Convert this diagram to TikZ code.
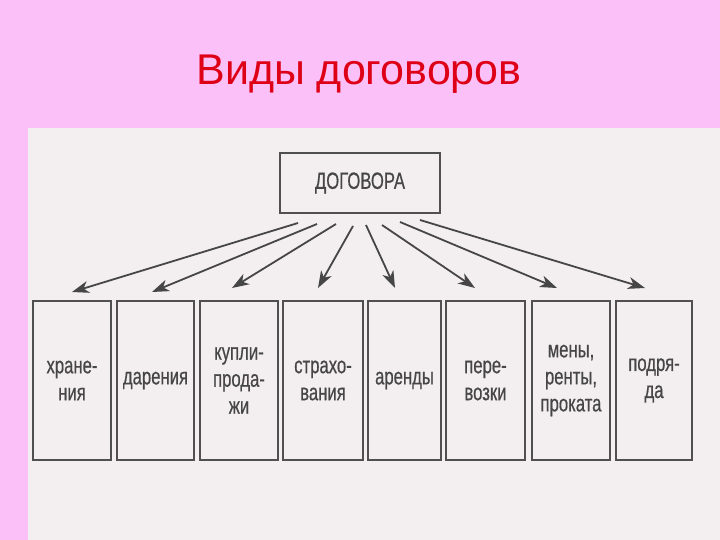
\documentclass[tikz,border=0pt]{standalone}
\usepackage{fontspec}
\setmainfont{Liberation Sans}
\newfontfamily\narrowfont{Liberation Sans}[FakeStretch=0.71,FakeBold=0.5]
\usetikzlibrary{arrows.meta}
\definecolor{pinkbg}{RGB}{251,192,248}
\definecolor{scanbg}{RGB}{243,239,241}
\definecolor{titlered}{RGB}{222,0,22}
\definecolor{boxgray}{RGB}{80,80,80}
\definecolor{txtgray}{RGB}{70,70,70}
\definecolor{arrgray}{RGB}{70,70,70}
\begin{document}
\begin{tikzpicture}[x=1pt,y=-1pt,
  box/.style={draw=boxgray,line width=1.6pt,minimum width=78pt,minimum height=159pt,
    inner sep=0pt,align=center,font=\narrowfont\fontsize{23.5}{27}\selectfont,text=txtgray},
  arr/.style={draw=arrgray,line width=1.8pt,-{Stealth[length=17pt,width=12pt,inset=5pt]}}]
\fill[pinkbg] (0,0) rectangle (720,540);
\fill[scanbg] (28,128) rectangle (720,540);
\useasboundingbox (0,0) rectangle (720,540);
\node[anchor=base,font=\fontsize{43}{50}\selectfont,text=titlered] (title) at (359,85) {Виды договоров};
\node[box,minimum width=160pt,minimum height=60pt] (top) at (360,183) {ДОГОВОРА};
\node[box] (b1) at (72,380.5) {хране-\\ния};
\node[box,minimum width=77pt] (b2) at (155.5,380.5) {дарения};
\node[box] (b3) at (239,380.5) {купли-\\прода-\\жи};
\node[box,minimum width=80pt] (b4) at (323,380.5) {страхо-\\вания};
\node[box,minimum width=73pt] (b5) at (404.5,380.5) {аренды};
\node[box,minimum width=79pt] (b6) at (485.5,380.5) {пере-\\возки};
\node[box] (b7) at (571,380.5) {мены,\\ренты,\\проката};
\node[box,minimum width=76pt] (b8) at (654,380.5) {подря-\\да};
\coordinate (s1) at (298,223); \coordinate (e1) at (72,292);
\coordinate (s2) at (317,224); \coordinate (e2) at (152,292);
\coordinate (s3) at (336,224); \coordinate (e3) at (232,288);
\coordinate (s4) at (353,226); \coordinate (e4) at (318,288);
\coordinate (s5) at (366,225); \coordinate (e5) at (395,288);
\coordinate (s6) at (382,225); \coordinate (e6) at (475,288);
\coordinate (s7) at (400,222); \coordinate (e7) at (557,288);
\coordinate (s8) at (420,220); \coordinate (e8) at (645,288);
\foreach \i in {1,...,8} {\draw[arr] (s\i) -- (e\i);}
\end{tikzpicture}
\end{document}
